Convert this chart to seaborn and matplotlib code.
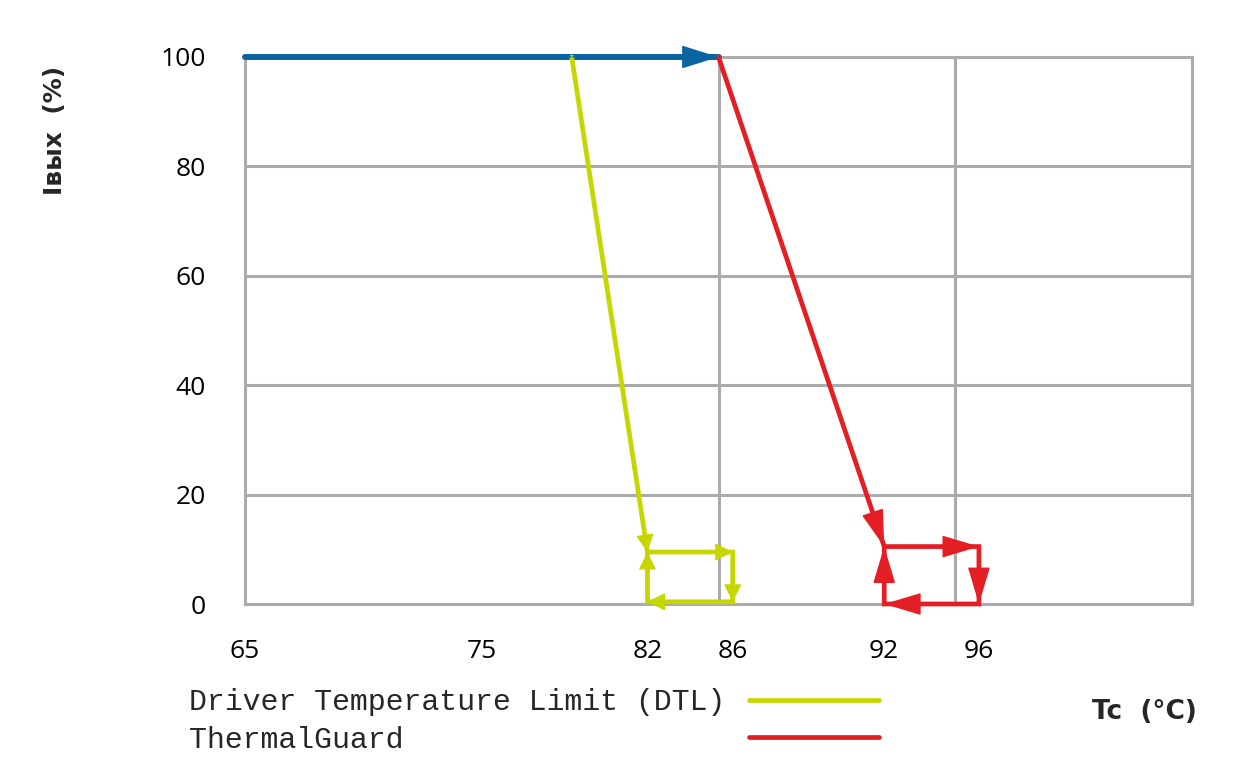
import matplotlib
matplotlib.use("Agg")
import matplotlib.pyplot as plt
import seaborn as sns
import pandas as pd
from matplotlib import font_manager
from matplotlib.patches import ArrowStyle

# ---------------- data ----------------
full_x = [65, 85]
full_y = [100, 100]
dtl_x = [78.8, 82, 85.6, 85.6, 82, 82]
dtl_y = [100, 9.5, 9.5, 0.4, 0.4, 9.5]
tg_x = [85, 92, 96, 96, 92, 92]
tg_y = [100, 10.5, 10.5, 0, 0, 10.5]
x_tick_vals = [65, 75, 82, 85.6, 92, 96]
x_tick_labels = ["65", "75", "82", "86", "92", "96"]
x_grid_vals = [75, 85, 95]
y_ticks = [0, 20, 40, 60, 80, 100]
y_tick_labels = ["0", "20", "40", "60", "80", "100"]
series_labels = ["Driver Temperature Limit (DTL)", "ThermalGuard"]

BLUE = "#0a64a0"
GREEN = "#c6d600"
RED = "#e31e24"
GRID = "#ababab"

sns.set_style("white")


def pick(fams):
    for f in fams:
        try:
            font_manager.findfont(font_manager.FontProperties(family=f),
                                  fallback_to_default=False)
            return f
        except Exception:
            pass
    return "DejaVu Sans"


tick_font = pick(["Open Sans", "DejaVu Sans"])
tick_size = 19
mono_font = pick(["Liberation Mono", "DejaVu Sans Mono"])

fig = plt.figure(figsize=(12.41, 7.68), dpi=100)
W, H = 1241, 768
ax = fig.add_axes([245 / W, 164 / H, 947 / W, 547 / H])

df_full = pd.DataFrame({"x": full_x, "y": full_y})
df_dtl = pd.DataFrame({"x": dtl_x, "y": dtl_y})
df_tg = pd.DataFrame({"x": tg_x, "y": tg_y})

sns.lineplot(data=df_full, x="x", y="y", sort=False, estimator=None,
             color=BLUE, lw=4.3, ax=ax, zorder=4)
sns.lineplot(data=df_dtl, x="x", y="y", sort=False, estimator=None,
             color=GREEN, lw=3.4, ax=ax, zorder=4)
sns.lineplot(data=df_tg, x="x", y="y", sort=False, estimator=None,
             color=RED, lw=3.4, ax=ax, zorder=4)
lines = ax.get_lines()
for ln in lines:
    ln.set_clip_on(False)
    ln.set_solid_joinstyle("miter")
h_full, h_dtl, h_tg = lines[0], lines[1], lines[2]


def heads(xs, ys, color, lw, hl, hw):
    style = ArrowStyle("-|>", head_length=hl, head_width=hw)
    for i in range(1, len(xs)):
        ax.annotate("", xy=(xs[i], ys[i]), xytext=(xs[i - 1], ys[i - 1]),
                    xycoords="data", textcoords="data", annotation_clip=False,
                    arrowprops=dict(arrowstyle=style, mutation_scale=10,
                                    color=color, lw=lw, shrinkA=0, shrinkB=0),
                    zorder=5)


heads(full_x, full_y, BLUE, 1.0, 2.4, 0.75)
heads(dtl_x, dtl_y, GREEN, 1.0, 1.1, 0.55)
heads(tg_x, tg_y, RED, 1.0, 2.4, 0.72)

ax.set_xlim(65, 105)
ax.set_ylim(0, 100)
ax.set_xticks(x_tick_vals)
ax.set_xticklabels(x_tick_labels)
ax.set_xticks(x_grid_vals, minor=True)
ax.set_yticks(y_ticks)
ax.set_yticklabels(y_tick_labels)
ax.set_xlabel("")
ax.set_ylabel("")
ax.grid(False)
ax.yaxis.grid(True, which="major", color=GRID, lw=2.2)
ax.xaxis.grid(True, which="minor", color=GRID, lw=2.2)
ax.set_axisbelow(True)
for s in ax.spines.values():
    s.set_visible(True)
    s.set_color(GRID)
    s.set_linewidth(2.2)
ax.tick_params(axis="x", which="both", length=0, pad=25, labelsize=tick_size)
ax.tick_params(axis="y", which="both", length=0, pad=28, labelsize=tick_size)
for lbl in ax.get_xticklabels() + ax.get_yticklabels():
    lbl.set_family(tick_font)
    lbl.set_color("black")

fig.text(55 / W, 1 - 130 / H, "Iвых  (%)", rotation=90, ha="center",
         va="center", fontweight="bold", fontsize=18, family="DejaVu Sans")
fig.text(1144 / W, 1 - 712 / H, "Tc  (°C)", ha="center", va="center",
         fontweight="bold", fontsize=19, family="DejaVu Sans")

width = max(len(s) for s in series_labels)
padded = [s.ljust(width) for s in series_labels]
ax.legend(handles=[h_dtl, h_tg], labels=padded, loc="upper left",
          bbox_to_anchor=(189 / W, 1 - 688 / H), bbox_transform=fig.transFigure,
          frameon=False, markerfirst=False,
          prop=font_manager.FontProperties(family=mono_font, size=21.5),
          handlelength=4.35, handletextpad=0.8, labelspacing=0.33,
          borderpad=0, borderaxespad=0)

fig.savefig("out.png", dpi=100)
